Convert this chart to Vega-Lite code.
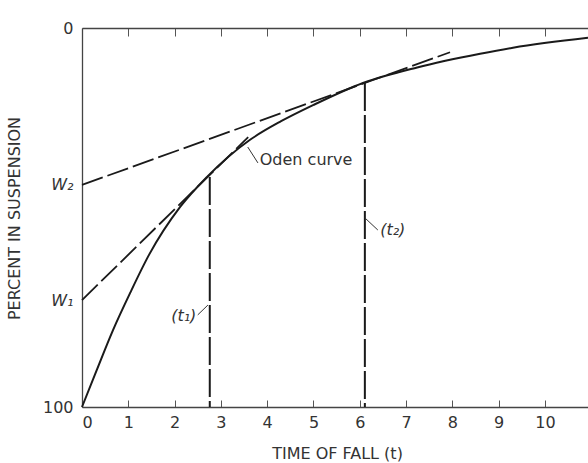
{
  "$schema": "https://vega.github.io/schema/vega-lite/v6.json",
  "width": 506,
  "height": 379,
  "autosize": {"type": "none"},
  "padding": {"left": 82, "top": 28, "right": 0, "bottom": 56},
  "background": "white",
  "config": {
    "view": {"stroke": null},
    "font": "DejaVu Sans",
    "axis": {"grid": false, "domainColor": "#444", "domainWidth": 1.3, "tickColor": "#555", "labelColor": "#333", "titleColor": "#333", "labelFont": "DejaVu Sans", "titleFont": "DejaVu Sans", "titleFontWeight": "normal", "labelFontSize": 15, "titleFontSize": 15}
  },
  "datasets": {
    "curve": [
      {"t": 0, "p": 100}, {"t": 0.32, "p": 90.2}, {"t": 0.67, "p": 79.7}, {"t": 1.04, "p": 69.9},
      {"t": 1.45, "p": 59.8}, {"t": 2.12, "p": 47.2}, {"t": 2.7, "p": 39.3}, {"t": 3.63, "p": 29.5},
      {"t": 4.3, "p": 24.6}, {"t": 5.0, "p": 20.3}, {"t": 6.07, "p": 14.5}, {"t": 7.24, "p": 10.4},
      {"t": 8.6, "p": 6.8}, {"t": 9.31, "p": 5.2}, {"t": 10.93, "p": 2.6}
    ],
    "tangents": [
      {"line": "W2", "t": 0, "p": 41.4}, {"line": "W2", "t": 7.95, "p": 6.4},
      {"line": "W1", "t": 0, "p": 71.8}, {"line": "W1", "t": 3.59, "p": 28.8}
    ],
    "verticals": [
      {"t": 2.76, "top": 39.3, "bottom": 100},
      {"t": 6.11, "top": 14.5, "bottom": 100}
    ],
    "leaders": [
      {"t": 3.58, "p": 31.4, "t2": 3.8, "p2": 35.6},
      {"t": 6.11, "p": 50.1, "t2": 6.39, "p2": 53.3},
      {"t": 2.72, "p": 73.1, "t2": 2.5, "p2": 75.7}
    ],
    "labelsLeft": [
      {"t": 3.84, "p": 34.8, "label": "Oden curve"}
    ],
    "labelsLeftItalic": [
      {"t": 6.44, "p": 53.3, "label": "(t₂)"}
    ],
    "labelsRight": [
      {"t": 2.47, "p": 75.9, "label": "(t₁)"}
    ]
  },
  "resolve": {"axis": {"x": "independent", "y": "independent"}},
  "layer": [
    {
      "data": {"name": "curve"},
      "mark": {"type": "line", "interpolate": "monotone", "color": "#1a1a1a", "strokeWidth": 2},
      "encoding": {
        "x": {"field": "t", "type": "quantitative", "scale": {"domain": [0, 10.93], "nice": false},
          "axis": {"orient": "bottom", "values": [0,1,2,3,4,5,6,7,8,9,10], "tickSize": -7, "labelPadding": 14, "labelFontSize": 16, "title": "TIME OF FALL (t)", "titleFontSize": 16, "titleX": 255, "titleY": 46, "titleBaseline": "middle", "titleAnchor": null}},
        "y": {"field": "p", "type": "quantitative", "scale": {"domain": [0, 100], "reverse": true, "nice": false},
          "axis": {"values": [0, 41.4, 71.8, 100], "labelExpr": "datum.value == 0 ? '0' : datum.value == 100 ? '100' : datum.value < 50 ? 'W₂' : 'W₁'", "labelFontStyle": {"condition": {"test": "datum.value > 10 && datum.value < 90", "value": "italic"}, "value": "normal"}, "labelFontSize": 16, "tickSize": 0, "labelPadding": 9, "title": "PERCENT IN SUSPENSION", "titleFontSize": 16, "titleX": -68, "titleY": 190, "titleBaseline": "middle", "titleAlign": "center", "titleAngle": -90}}
      }
    },
    {
      "data": {"name": "tangents"},
      "mark": {"type": "line", "color": "#1a1a1a", "strokeWidth": 1.8, "strokeDash": [22, 5]},
      "encoding": {
        "x": {"field": "t", "type": "quantitative", "axis": {"orient": "top", "values": [0,1,2,3,4,5,6,7,8,9,10], "tickSize": -8, "labels": false, "title": null}},
        "y": {"field": "p", "type": "quantitative", "axis": null},
        "detail": {"field": "line"}
      }
    },
    {
      "data": {"name": "verticals"},
      "mark": {"type": "rule", "color": "#1a1a1a", "strokeWidth": 2, "strokeDash": [28, 4]},
      "encoding": {
        "x": {"field": "t", "type": "quantitative", "axis": null},
        "y": {"field": "top", "type": "quantitative", "axis": null},
        "y2": {"field": "bottom"}
      }
    },
    {
      "data": {"name": "leaders"},
      "mark": {"type": "rule", "color": "#333", "strokeWidth": 1},
      "encoding": {
        "x": {"field": "t", "type": "quantitative", "axis": null},
        "y": {"field": "p", "type": "quantitative", "axis": null},
        "x2": {"field": "t2"},
        "y2": {"field": "p2"}
      }
    },
    {
      "data": {"name": "labelsLeft"},
      "mark": {"type": "text", "fontSize": 16, "color": "#333", "baseline": "middle", "align": "left"},
      "encoding": {
        "x": {"field": "t", "type": "quantitative", "axis": null},
        "y": {"field": "p", "type": "quantitative", "axis": null},
        "text": {"field": "label"}
      }
    },
    {
      "data": {"name": "labelsLeftItalic"},
      "mark": {"type": "text", "fontSize": 16, "color": "#333", "baseline": "middle", "align": "left", "fontStyle": "italic"},
      "encoding": {
        "x": {"field": "t", "type": "quantitative", "axis": null},
        "y": {"field": "p", "type": "quantitative", "axis": null},
        "text": {"field": "label"}
      }
    },
    {
      "data": {"name": "labelsRight"},
      "mark": {"type": "text", "fontSize": 16, "color": "#333", "baseline": "middle", "align": "right", "fontStyle": "italic"},
      "encoding": {
        "x": {"field": "t", "type": "quantitative", "axis": null},
        "y": {"field": "p", "type": "quantitative", "axis": null},
        "text": {"field": "label"}
      }
    }
  ]
}
